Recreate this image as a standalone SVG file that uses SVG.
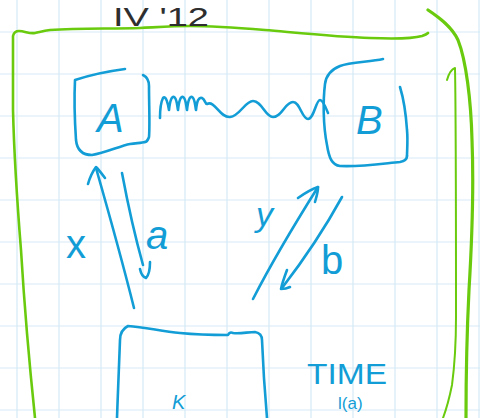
<svg xmlns="http://www.w3.org/2000/svg" width="480" height="418" viewBox="0 0 480 418">
<defs>
<style>
.grid line{stroke:#d6eaf6;stroke-width:1.2}
.green{fill:none;stroke:#6acb0e;stroke-linecap:round;stroke-linejoin:round}
.blue{fill:none;stroke:#129dd6;stroke-width:2.6;stroke-linecap:round;stroke-linejoin:round}
.hand{font-family:"Liberation Sans","DejaVu Sans",sans-serif;fill:#129dd6}
.ink{font-family:"Liberation Sans","DejaVu Sans",sans-serif;fill:#2e2e2e}
</style>
</defs>
<rect width="480" height="418" fill="#ffffff"/>
<g class="grid">
<line x1="17" y1="0" x2="17" y2="418"/><line x1="59" y1="0" x2="59" y2="418"/><line x1="101" y1="0" x2="101" y2="418"/><line x1="143" y1="0" x2="143" y2="418"/><line x1="185" y1="0" x2="185" y2="418"/><line x1="227" y1="0" x2="227" y2="418"/><line x1="269" y1="0" x2="269" y2="418"/><line x1="311" y1="0" x2="311" y2="418"/><line x1="353" y1="0" x2="353" y2="418"/><line x1="395" y1="0" x2="395" y2="418"/><line x1="437" y1="0" x2="437" y2="418"/><line x1="479" y1="0" x2="479" y2="418"/>
<line x1="0" y1="32" x2="480" y2="32"/><line x1="0" y1="74" x2="480" y2="74"/><line x1="0" y1="116" x2="480" y2="116"/><line x1="0" y1="158" x2="480" y2="158"/><line x1="0" y1="200" x2="480" y2="200"/><line x1="0" y1="242" x2="480" y2="242"/><line x1="0" y1="284" x2="480" y2="284"/><line x1="0" y1="326" x2="480" y2="326"/><line x1="0" y1="368" x2="480" y2="368"/><line x1="0" y1="410" x2="480" y2="410"/>
</g>
<g id="frame">
<path class="green" stroke-width="2.6" d="M35,418 C30,370 24,300 21,250 C17,200 14,150 13,110 C13,80 13,50 13,36 C14,32 16,31 19,31 C25,31 29,34 35,33 C40,32 43,31 50,30 C80,28 110,29 140,28 C160,27 175,26 190,26 C215,26 240,28 265,30 C300,33 340,37 370,38 C395,39 415,38 422,36 C425,35 427,34 428,33"/>
<path class="green" stroke-width="3.2" d="M428,10 C440,18 452,27 458,40 C466,60 471,100 472,140 C474,190 472,240 469,290 C467,330 466,370 466,418"/>
<path class="green" stroke-width="2" d="M447,80 C449,73 452,69 455,68 C456,120 456,250 456,317 C456,350 454,370 452,385 C449,400 446,410 443,418"/>
</g>
<g id="title">
<text class="ink" x="113" y="26" font-size="25" textLength="96" lengthAdjust="spacingAndGlyphs">IV '12</text>
</g>
<g id="nodeA">
<path class="blue" d="M125,69 C110,71 90,75 75,80 C74,100 75,125 76,140 C77,150 82,155 92,155 C105,153 120,146 130,144 C137,143 142,143 145,142"/>
<path class="blue" d="M143,75 C147,77 149,80 149,86 C149,105 150,125 149,137 C148,140 146,142 145,142"/>
<text class="hand" x="97" y="132" font-size="40" font-style="italic">A</text>
</g>
<g id="nodeB">
<path class="blue" d="M383,59 C370,62 350,62 340,66 C330,70 326,76 325,84 C323,100 323,125 327,145 C329,158 332,165 340,166 C360,167 380,164 400,162 C405,161 407,159 407,156"/>
<path class="blue" d="M400,87 C404,100 406,115 407,130 C408,140 407,150 407,156"/>
<text class="hand" x="356" y="134" font-size="40" font-style="italic">B</text>
</g>
<g id="nodeK">
<path class="blue" d="M117,418 C118,390 119,360 120,340 C120,334 122,329 128,326 C145,327 160,331 180,333 C200,335 215,335 228,335 C229,333 231,332 233,333 C240,334 248,332 255,332 C260,333 262,336 262,340 C263,365 265,395 267,418"/>
<text class="hand" x="172" y="409" font-size="20" font-style="italic">K</text>
</g>
<g id="connectors">
<path class="blue" d="M160,118 C160,110 161,102 163,98 C166,95 168,104 169,110 C170,100 172,96 174,97 C177,98 177,106 178,110 C179,100 181,96 183,97 C186,98 186,106 187,110 C188,100 190,96 192,97 C195,98 195,106 196,110 C197,100 199,97 202,98 C205,99 205,104 207,104 C215,100 220,118 230,117 C240,116 245,101 253,101 C262,101 265,117 273,117 C282,117 285,102 293,102 C300,102 302,119 308,119 C314,119 316,100 320,100 C323,100 326,108 328,113"/>
<path class="blue" d="M134,308 C122,260 108,210 96,168"/>
<path class="blue" d="M88,184 C90,177 93,171 96,167 C99,170 102,174 105,178"/>
<path class="blue" d="M122,173 C128,205 136,240 143,265"/>
<path class="blue" d="M140,269 C141,274 143,277 146,278 C149,275 150,268 150,262"/>
<path class="blue" d="M253,299 C272,262 296,222 318,187"/>
<path class="blue" d="M298,198 C305,193 312,189 318,187 C318,193 316,198 315,202"/>
<path class="blue" d="M342,197 C325,228 302,262 282,288"/>
<path class="blue" d="M287,270 C284,278 282,284 281,289 C284,289 288,288 290,287"/>
</g>
<g id="labels">
<text class="hand" x="66" y="258" font-size="40">x</text>
<text class="hand" x="146" y="249" font-size="40" font-style="italic">a</text>
<text class="hand" x="256" y="226" font-size="34" font-style="italic">y</text>
<text class="hand" x="321" y="274" font-size="40">b</text>
<text class="hand" x="307" y="384" font-size="30" textLength="80" lengthAdjust="spacingAndGlyphs">TIME</text>
<text class="hand" x="338" y="409" font-size="17">l(a)</text>
</g>
</svg>
